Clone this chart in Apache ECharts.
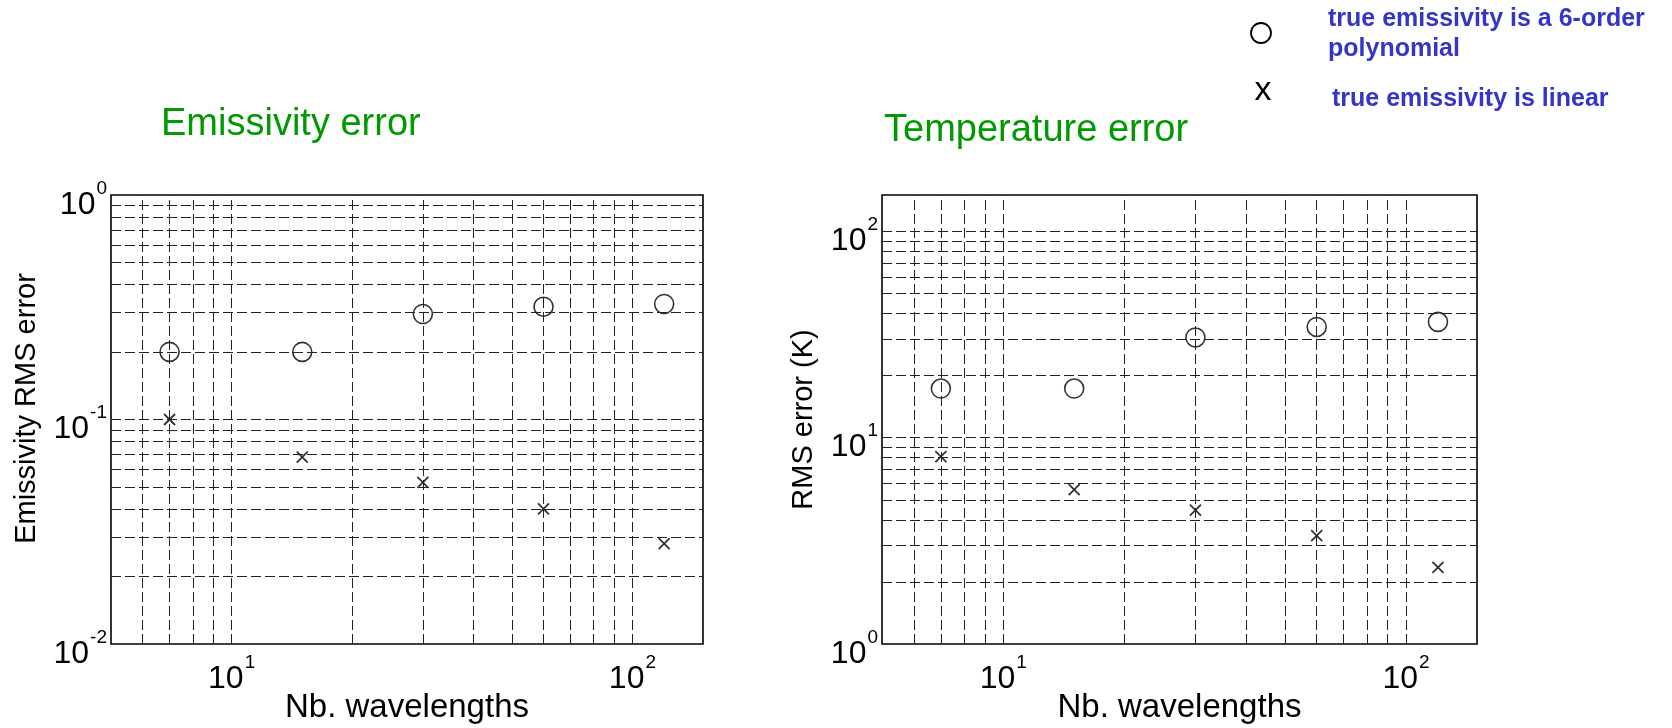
<!DOCTYPE html>
<html>
<head>
<meta charset="utf-8">
<script src="https://cdn.jsdelivr.net/npm/echarts@6/dist/echarts.min.js"></script>
<style>
html,body{margin:0;padding:0;background:#fff;}
#chart{width:1672px;height:728px;}
</style>
</head>
<body>
<div id="chart"></div>
<script>
// ---- data ----
const xValues = [7, 15, 30, 60, 120];
const emisPoly = [0.2, 0.2, 0.295, 0.318, 0.327];
const emisLin = [0.1, 0.068, 0.0525, 0.04, 0.028];
const tempPoly = [17.3, 17.3, 30.6, 34.4, 36.4];
const tempLin = [8.1, 5.6, 4.45, 3.35, 2.35];

// grid line positions and labelled ticks
const xGridValues = [6, 7, 8, 9, 10, 20, 30, 40, 50, 60, 70, 80, 90, 100];
const emisGridValues = [0.02, 0.03, 0.04, 0.05, 0.06, 0.07, 0.08, 0.09, 0.1, 0.2, 0.3, 0.4, 0.5, 0.6, 0.7, 0.8, 0.9];
const tempGridValues = [2, 3, 4, 5, 6, 7, 8, 9, 10, 20, 30, 40, 50, 60, 70, 80, 90, 100];
const xTickLabels = [10, 100];
const emisTickLabels = [0.01, 0.1, 1];
const tempTickLabels = [1, 10, 100];

const titles = ['Emissivity error', 'Temperature error'];
const yNames = ['Emissivity RMS error', 'RMS error (K)'];
const xName = 'Nb. wavelengths';
const legendTexts = ['true emissivity is a 6-order', 'polynomial', 'true emissivity is linear'];

// ---- build ----
const FONT = '"Liberation Sans", Arial, Helvetica, sans-serif';
const chart = echarts.init(document.getElementById('chart'), null, {renderer: 'canvas'});

function supFormatter(list) {
  return function (v) {
    const ok = list.some(t => Math.abs(Math.log10(t) - Math.log10(v)) < 1e-6);
    if (!ok) return '';
    const e = Math.round(Math.log10(v));
    return '{b|10}{s|' + (e < 0 ? '-' + (-e) : e) + '}';
  };
}
const richSup = {
  b: {fontSize: 32, fontFamily: FONT, color: '#000', lineHeight: 42, verticalAlign: 'bottom'},
  s: {fontSize: 19, fontFamily: FONT, color: '#000', lineHeight: 19, verticalAlign: 'top', padding: [0, 0, 0, 1]}
};

const gridLineStyle = {color: '#222', width: 1, type: [10, 4]};

function xAxisDef(gi) {
  return {
    type: 'log', logBase: 10, gridIndex: gi, min: 5, max: 150,
    splitLine: {show: false},
    axisTick: {show: true, inside: true, length: 5, customValues: xGridValues, lineStyle: {color: '#000', width: 1}},
    axisLine: {show: false},
    axisLabel: {formatter: supFormatter(xTickLabels), rich: richSup, margin: 9, hideOverlap: false, showMinLabel: true, showMaxLabel: true},
    name: xName, nameLocation: 'middle', nameGap: 64, nameMoveOverlap: false,
    nameTextStyle: {fontSize: 33, fontFamily: FONT, color: '#000', align: 'center', verticalAlign: 'middle'}
  };
}
function yAxisDef(gi, min, max, ticks, gridVals, name, gap, shift) {
  return {
    type: 'log', logBase: 10, gridIndex: gi, min: min, max: max,
    splitLine: {show: false},
    axisTick: {show: true, inside: true, length: 5, customValues: gridVals, lineStyle: {color: '#000', width: 1}},
    axisLine: {show: false},
    axisLabel: {formatter: supFormatter(ticks), rich: richSup, margin: 4, padding: [10, 0, 0, 0], showMinLabel: true, showMaxLabel: true},
    name: name, nameLocation: 'middle', nameGap: gap, nameMoveOverlap: false,
    nameTextStyle: {fontSize: 29, fontFamily: FONT, color: '#000', align: 'center', verticalAlign: 'middle', padding: [0, 0, 0, shift]}
  };
}
function gridLinesSeries(gi, yVals) {
  const data = xGridValues.map(v => ({xAxis: v})).concat(yVals.map(v => ({yAxis: v})));
  return {
    type: 'scatter', xAxisIndex: gi, yAxisIndex: gi, data: [], z: 1, silent: true,
    markLine: {silent: true, symbol: ['none', 'none'], label: {show: false}, animation: false,
      lineStyle: gridLineStyle, emphasis: {disabled: true}, data: data}
  };
}
function pts(ys) { return xValues.map((x, i) => [x, ys[i]]); }
const circleStyle = {color: 'rgba(0,0,0,0)', borderColor: '#000', borderWidth: 1.6};
const crossStyle = {color: 'rgba(0,0,0,0)', borderColor: '#000', borderWidth: 1.8};
const crossPath = 'path://M0,0L10,10M10,0L0,10';
function markerSeries(gi, poly, lin) {
  return [
    {type: 'scatter', xAxisIndex: gi, yAxisIndex: gi, data: pts(poly), symbol: 'circle', symbolSize: 19, itemStyle: circleStyle, z: 3, silent: true},
    {type: 'scatter', xAxisIndex: gi, yAxisIndex: gi, data: pts(lin), symbol: crossPath, symbolSize: 11, itemStyle: crossStyle, z: 3, silent: true}
  ];
}

const option = {
  backgroundColor: '#fff',
  animation: false,
  grid: [
    {left: 111, top: 195, width: 592, height: 449, show: true, borderColor: '#000', borderWidth: 1.6, backgroundColor: '#fff', containLabel: false, outerBoundsMode: 'none'},
    {left: 882, top: 195, width: 595, height: 449, show: true, borderColor: '#000', borderWidth: 1.6, backgroundColor: '#fff', containLabel: false, outerBoundsMode: 'none'}
  ],
  xAxis: [xAxisDef(0), xAxisDef(1)],
  yAxis: [
    yAxisDef(0, 0.01, 1, emisTickLabels, emisGridValues, yNames[0], 84, 22),
    yAxisDef(1, 1, 150, tempTickLabels, tempGridValues, yNames[1], 78, 0)
  ],
  series: [
    gridLinesSeries(0, emisGridValues),
    gridLinesSeries(1, tempGridValues)
  ].concat(markerSeries(0, emisPoly, emisLin), markerSeries(1, tempPoly, tempLin)),
  graphic: [
    {type: 'text', left: 161, top: 125 - 19, style: {text: titles[0], fontSize: 38, fontFamily: FONT, fill: '#009900', verticalAlign: 'top', lineHeight: 38}},
    {type: 'text', left: 884, top: 131 - 19, style: {text: titles[1], fontSize: 38, fontFamily: FONT, fill: '#009900', verticalAlign: 'top', lineHeight: 38}},
    {type: 'circle', shape: {cx: 1261, cy: 33, r: 10}, style: {fill: 'none', stroke: '#000', lineWidth: 1.8}},
    {type: 'text', x: 1263, y: 91, style: {text: 'x', fontSize: 34, fontFamily: FONT, fill: '#000', align: 'center', verticalAlign: 'middle'}},
    {type: 'text', x: 1328, y: 19, style: {text: legendTexts[0], fontSize: 25, fontWeight: 'bold', fontFamily: FONT, fill: '#3535c8', verticalAlign: 'middle'}},
    {type: 'text', x: 1328, y: 49.5, style: {text: legendTexts[1], fontSize: 25, fontWeight: 'bold', fontFamily: FONT, fill: '#3535c8', verticalAlign: 'middle'}},
    {type: 'text', x: 1332, y: 99, style: {text: legendTexts[2], fontSize: 25, fontWeight: 'bold', fontFamily: FONT, fill: '#3535c8', verticalAlign: 'middle'}}
  ]
};
chart.setOption(option);
</script>
</body>
</html>
